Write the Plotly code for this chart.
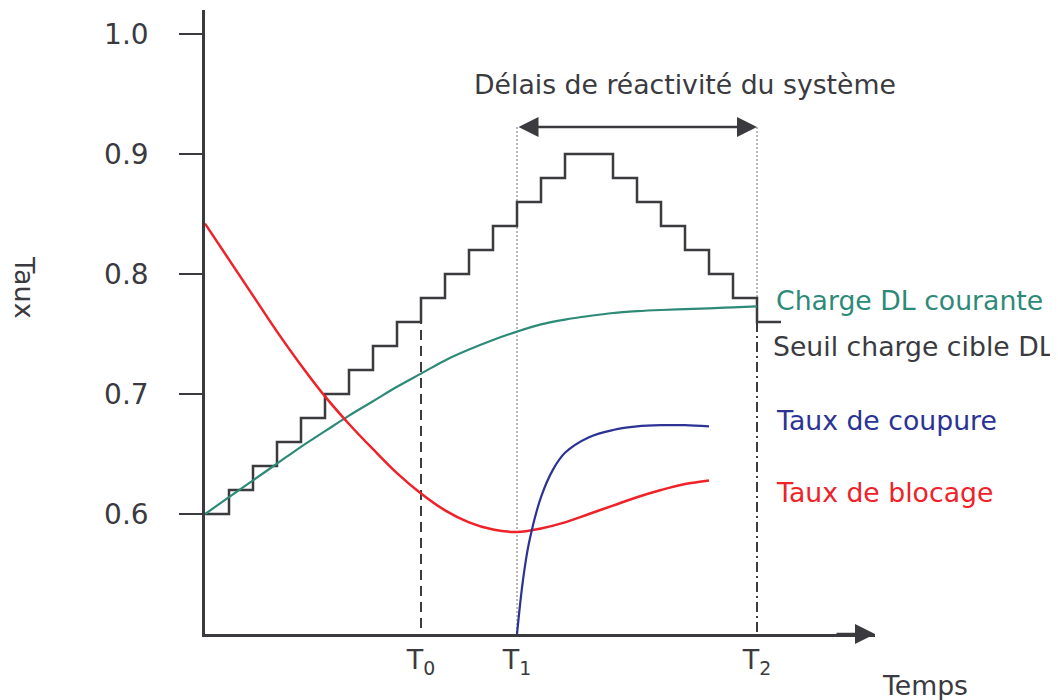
import plotly.graph_objects as go

# ---------------- data ----------------
step_x = list(range(0, 25))
seuil = [0.60, 0.62, 0.64, 0.66, 0.68, 0.70, 0.72, 0.74, 0.76, 0.78, 0.80, 0.82,
         0.84, 0.86, 0.88, 0.90, 0.90, 0.88, 0.86, 0.84, 0.82, 0.80, 0.78, 0.76, 0.76]

charge_x = list(range(0, 24))
charge = [0.600, 0.614, 0.628, 0.642, 0.656, 0.669, 0.682, 0.694, 0.706, 0.717, 0.728,
          0.737, 0.745, 0.752, 0.758, 0.762, 0.765, 0.7675, 0.769, 0.770, 0.7707, 0.7714,
          0.7722, 0.773]

blocage_x = list(range(0, 22))
blocage = [0.842, 0.812, 0.782, 0.752, 0.724, 0.698, 0.675, 0.654, 0.634, 0.617, 0.603,
           0.593, 0.587, 0.585, 0.588, 0.593, 0.600, 0.607, 0.614, 0.620, 0.625, 0.628]

coupure_x = [13, 13.25, 13.5, 14, 14.5, 15, 16, 17, 18, 19, 20, 21]
coupure = [0.500, 0.545, 0.576, 0.614, 0.637, 0.651, 0.664, 0.670, 0.673, 0.674, 0.674, 0.673]

T0, T1, T2 = 9, 13, 23
tick_vals = [T0, T1, T2]
tick_text = ["T<sub>0</sub>", "T<sub>1</sub>", "T<sub>2</sub>"]
y_ticks = [0.6, 0.7, 0.8, 0.9, 1.0]

Y_MIN, Y_MAX = 0.5, 1.02
X_MAX = 670 / 24
ARROW_Y = 0.9225

DARK = "#3a3a3f"
GREEN = "#2e8a78"
NAVY = "#2b3394"
RED = "#ee2228"
FONT = "DejaVu Sans"
TXT = 26.7

fig = go.Figure()

# guide lines
fig.add_trace(go.Scatter(x=[T1, T1], y=[ARROW_Y, Y_MIN], mode="lines",
                         line=dict(color="#8a8a8a", width=1.2, dash="2px,2px"),
                         hoverinfo="skip", showlegend=False))
fig.add_trace(go.Scatter(x=[T2, T2], y=[ARROW_Y, seuil[T2]], mode="lines",
                         line=dict(color="#8a8a8a", width=1.2, dash="2px,2px"),
                         hoverinfo="skip", showlegend=False))
fig.add_trace(go.Scatter(x=[T0, T0], y=[seuil[T0], Y_MIN], mode="lines",
                         line=dict(color=DARK, width=2, dash="10px,6px"),
                         hoverinfo="skip", showlegend=False))
fig.add_trace(go.Scatter(x=[T2, T2], y=[seuil[T2], Y_MIN], mode="lines",
                         line=dict(color=DARK, width=2, dash="10px,4px,2px,4px"),
                         hoverinfo="skip", showlegend=False))

# curves
fig.add_trace(go.Scatter(x=step_x, y=seuil, mode="lines", line_shape="hv",
                         line=dict(color=DARK, width=2.5), showlegend=False))
fig.add_trace(go.Scatter(x=charge_x, y=charge, mode="lines", line_shape="spline",
                         line=dict(color=GREEN, width=2.2), showlegend=False))
fig.add_trace(go.Scatter(x=blocage_x, y=blocage, mode="lines", line_shape="spline",
                         line=dict(color=RED, width=2.5), showlegend=False))
fig.add_trace(go.Scatter(x=coupure_x, y=coupure, mode="lines", line_shape="spline",
                         line=dict(color=NAVY, width=2.2), showlegend=False))

def label(x, y, text, color, anchor="left"):
    return dict(x=x, y=y, xref="x", yref="y", text=text, xanchor=anchor,
                borderpad=0, borderwidth=0, showarrow=False,
                font=dict(size=TXT, color=color, family=FONT))

annotations = [
    # double arrow
    dict(x=T2, y=ARROW_Y, ax=T1, ay=ARROW_Y, xref="x", yref="y", axref="x", ayref="y",
         showarrow=True, arrowhead=2, startarrowhead=2, arrowside="end+start",
         arrowwidth=2.5, arrowsize=1.6, startarrowsize=1.6, arrowcolor=DARK, text=""),
    # x-axis arrow
    dict(x=1, y=0, ax=-40, ay=0, xref="paper", yref="paper",
         showarrow=True, arrowhead=2, arrowwidth=2.5, arrowsize=1.6, arrowcolor=DARK, text=""),
    label(20, 0.9583, "Délais de réactivité du système", DARK, "center"),
    label(23.78, 0.7783, "Charge DL courante", GREEN),
    label(23.68, 0.7392, "Seuil charge cible DL", DARK),
    label(23.78, 0.6783, "Taux de coupure", NAVY),
    label(23.78, 0.6183, "Taux de blocage", RED),
    dict(x=(925 - 205) / 670, y=(634 - 685) / 624, xref="paper", yref="paper", text="Temps",
         xanchor="center", yanchor="middle",
         showarrow=False, font=dict(size=TXT, color=DARK, family=FONT)),
    dict(x=(25 - 205) / 670, y=(634 - 287) / 624, xref="paper", yref="paper", text="Taux",
         xanchor="center", yanchor="middle", borderpad=0, borderwidth=0,
         textangle=90, showarrow=False, font=dict(size=27, color=DARK, family=FONT)),
]

# the page adds an 8px body margin, so the figure is drawn 8px smaller
fig.update_layout(
    width=1050, height=692,
    margin=dict(l=197, r=183, t=2, b=66),
    plot_bgcolor="white", paper_bgcolor="white",
    font=dict(family=FONT, color=DARK),
    annotations=annotations,
    xaxis=dict(range=[0, X_MAX], showgrid=False, zeroline=False, showline=True,
               linecolor=DARK, linewidth=2.5, tickvals=tick_vals, ticktext=tick_text,
               ticks="", tickfont=dict(size=27, color=DARK, family=FONT),
               ticklabelstandoff=0),
    yaxis=dict(range=[Y_MIN, Y_MAX], showgrid=False, zeroline=False, showline=True,
               linecolor=DARK, linewidth=2.5, tickvals=y_ticks, tickformat=".1f",
               ticks="outside", ticklen=23, tickwidth=2, tickcolor=DARK,
               tickfont=dict(size=28, color=DARK, family=FONT), ticklabelstandoff=25),
)

fig.write_html("out.html")
